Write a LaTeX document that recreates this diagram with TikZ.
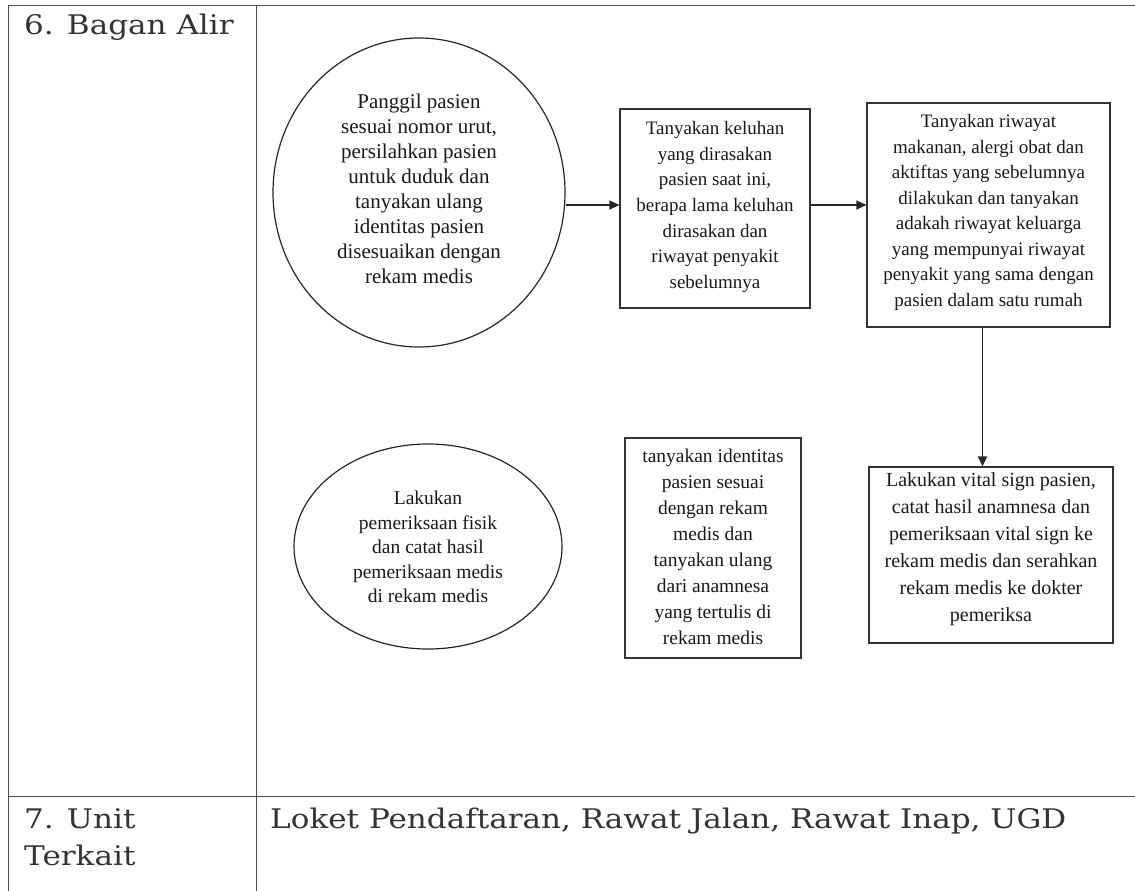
\documentclass[tikz,border=0pt]{standalone}
\usepackage{fontspec}
\setmainfont{Liberation Serif}
\newfontfamily\labelfont[FakeStretch=1.15]{DejaVu Serif}
\usetikzlibrary{arrows.meta,shapes.geometric}
\tikzset{
  tbl/.style={draw=black!70, line width=0.9pt},
  flowbox/.style={draw=black!80, line width=1.2pt, rectangle, inner sep=0pt, align=center, text=black!85},
  flowell/.style={draw=black!85, line width=1.2pt, ellipse, inner sep=0pt, align=center, text=black!85},
  flowtxt/.style={inner sep=0pt, align=center, text=black!90},
  arr/.style={draw=black!85, line width=1.3pt, -{Triangle[length=10pt,width=9pt]}},
  lbl/.style={anchor=base west, inner sep=0pt, font=\labelfont\fontsize{27}{37}\selectfont, text=black!80}
}
\begin{document}
\begin{tikzpicture}[x=1pt,y=-1pt]
\useasboundingbox (0,0) rectangle (1135,891);
% table
\draw[tbl] (8,5) -- (1135,5);
\draw[tbl] (8,5) -- (8,891);
\draw[tbl] (256,5) -- (256,891);
\draw[tbl] (8,796) -- (1135,796);
\node[lbl] (h6) at (24,35) {6. Bagan Alir};
\node[lbl] (h7) at (24,828) {7. Unit};
\node[lbl] (h7b) at (24,865) {Terkait};
\node[lbl] (u7) at (270,828) {Loket Pendaftaran, Rawat Jalan, Rawat Inap, UGD};
% flow
\node[flowell, minimum width=292pt, minimum height=309pt] (c1) at (419,192.5) {};
\node[flowtxt, font=\fontsize{21}{25}\selectfont] (c1t) at (419,189)
  {Panggil pasien\\sesuai nomor urut,\\persilahkan pasien\\untuk duduk dan\\tanyakan ulang\\identitas pasien\\disesuaikan dengan\\rekam medis};
\node[flowbox, minimum width=190pt, minimum height=199pt] (b2) at (715,208.5) {};
\node[flowtxt, font=\fontsize{19}{25.6}\selectfont] (b2t) at (715,207)
  {Tanyakan keluhan\\yang dirasakan\\pasien saat ini,\\berapa lama keluhan\\dirasakan dan\\riwayat penyakit\\sebelumnya};
\node[flowbox, minimum width=243pt, minimum height=224pt] (b3) at (988.5,215) {};
\node[flowtxt, font=\fontsize{19}{25.5}\selectfont] (b3t) at (988.5,212.5)
  {Tanyakan riwayat\\makanan, alergi obat dan\\aktiftas yang sebelumnya\\dilakukan dan tanyakan\\adakah riwayat keluarga\\yang mempunyai riwayat\\penyakit yang sama dengan\\pasien dalam satu rumah};
\node[flowbox, minimum width=244pt, minimum height=176pt] (b4) at (991,555) {};
\node[flowtxt, font=\fontsize{20}{27}\selectfont] (b4t) at (991,549)
  {Lakukan vital sign pasien,\\catat hasil anamnesa dan\\pemeriksaan vital sign ke\\rekam medis dan serahkan\\rekam medis ke dokter\\pemeriksa};
\node[flowbox, minimum width=176pt, minimum height=220pt] (b5) at (713,548) {};
\node[flowtxt, font=\fontsize{19.5}{26}\selectfont] (b5t) at (713,547)
  {tanyakan identitas\\pasien sesuai\\dengan rekam\\medis dan\\tanyakan ulang\\dari anamnesa\\yang tertulis di\\rekam medis};
\node[flowell, minimum width=268pt, minimum height=205pt] (e6) at (428,546.5) {};
\node[flowtxt, font=\fontsize{19.5}{24.6}\selectfont] (e6t) at (428,547)
  {Lakukan\\pemeriksaan fisik\\dan catat hasil\\pemeriksaan medis\\di rekam medis};
% connectors
\draw[arr] (c1.east |- 0,205) -- (b2.west |- 0,205);
\draw[arr] (b2.east |- 0,205) -- (b3.west |- 0,205);
\draw[arr] ([xshift=-6pt]b3.south) -- ([xshift=-6pt]b3.south |- b4.north);
\end{tikzpicture}
\end{document}
